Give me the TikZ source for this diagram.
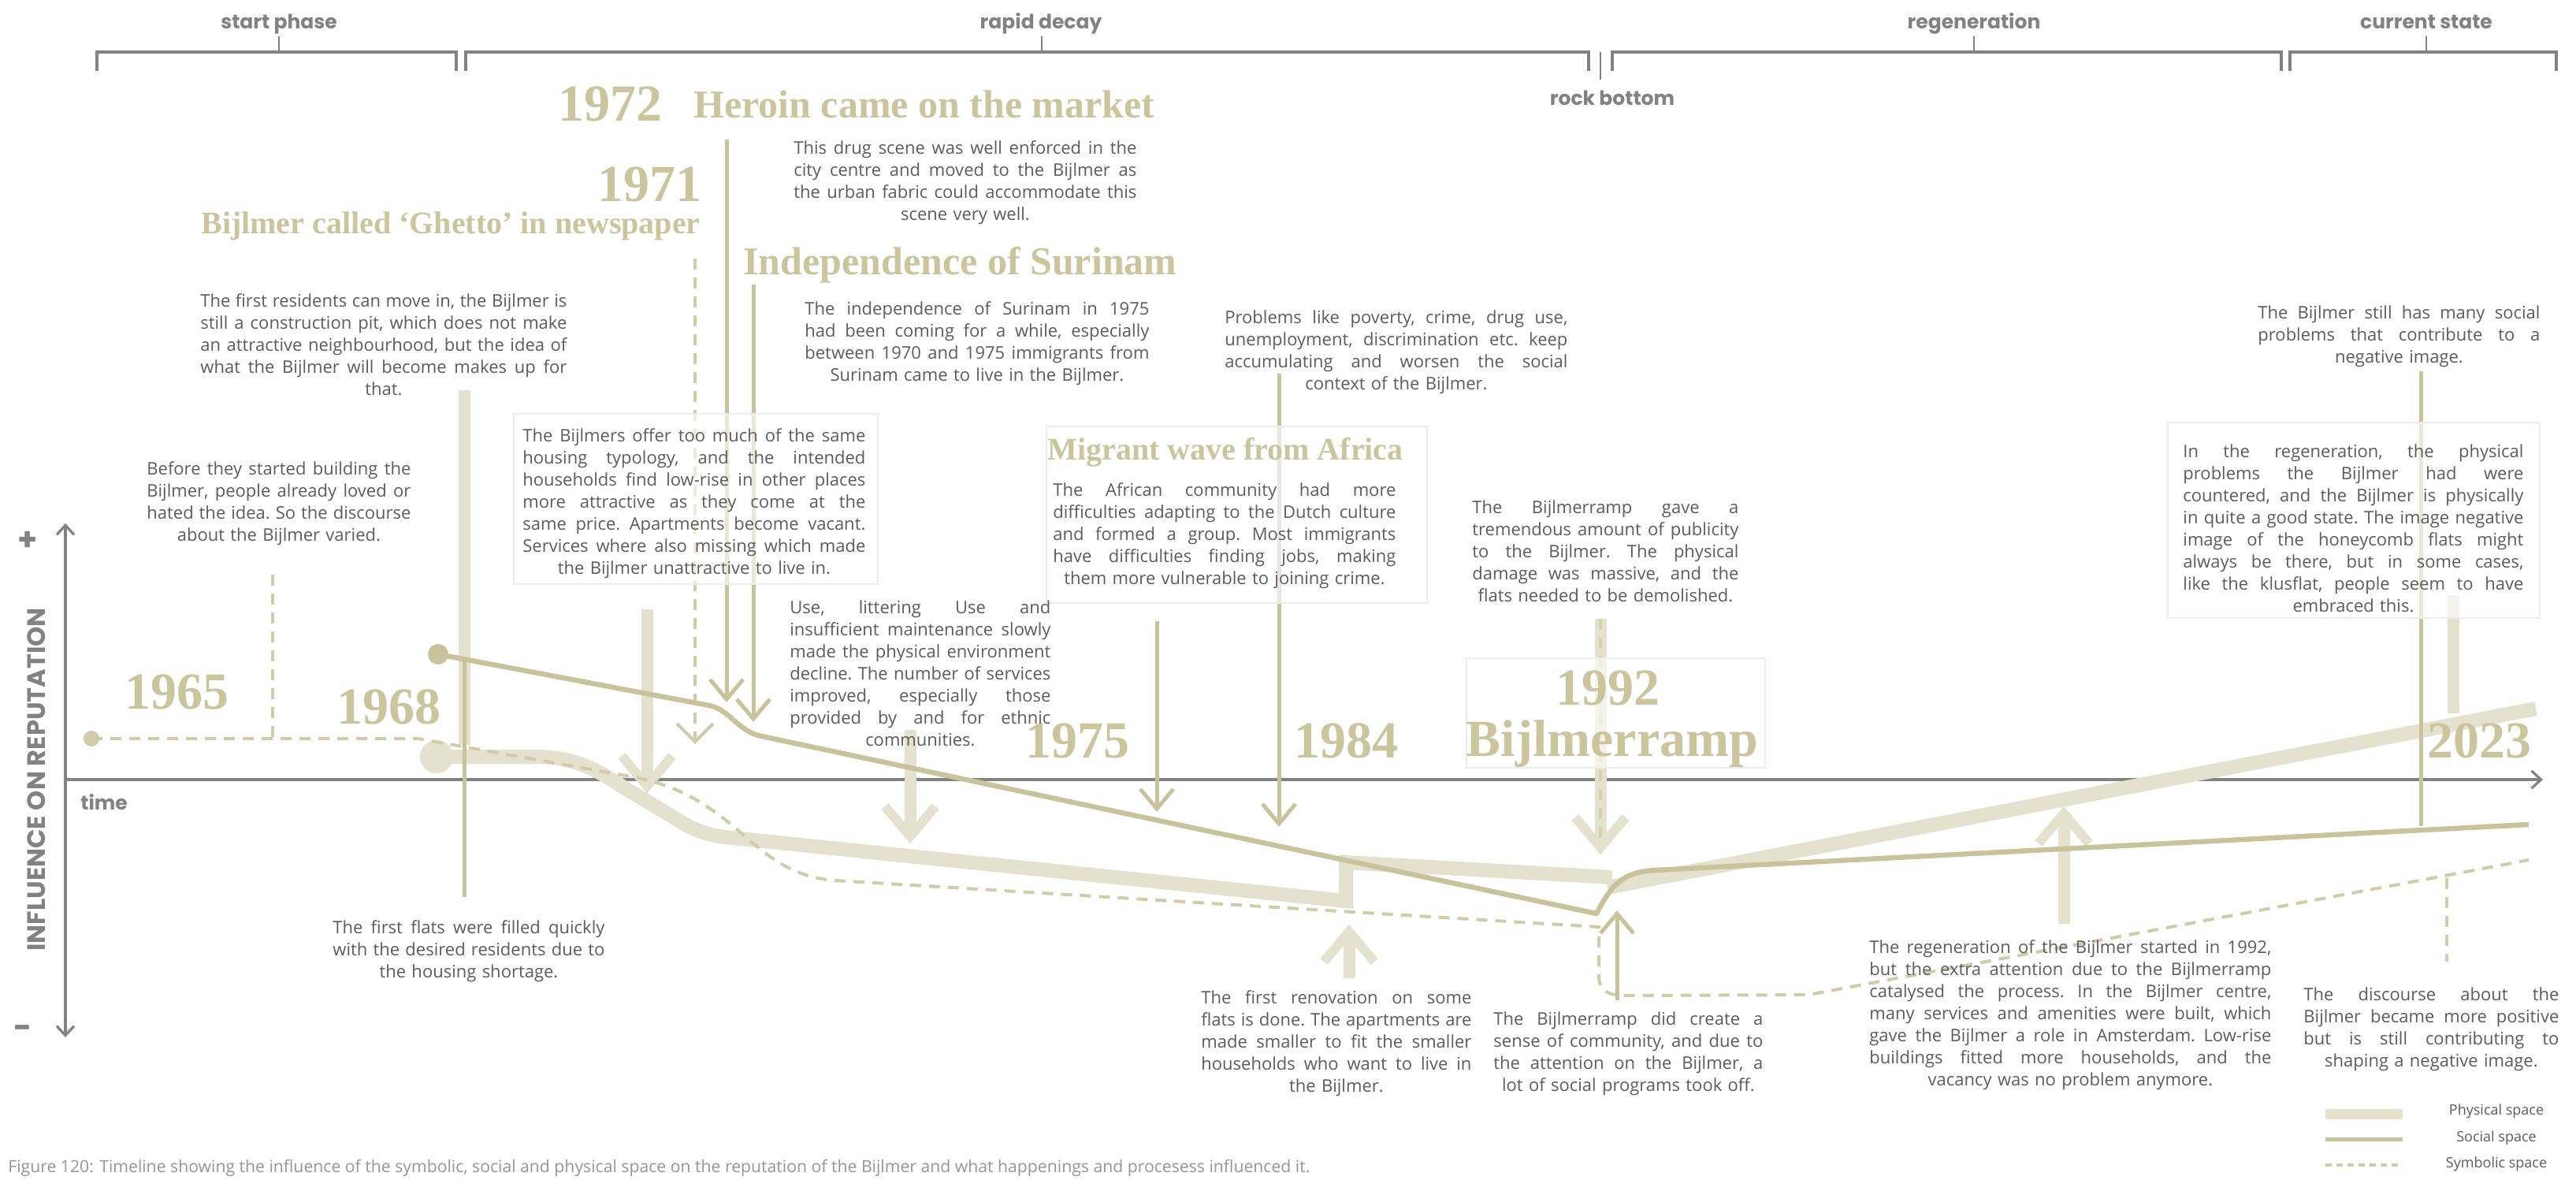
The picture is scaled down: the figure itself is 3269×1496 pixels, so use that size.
\documentclass[tikz,border=0pt]{standalone}
\usepackage{fontspec}
\setmainfont{Open Sans}
\newfontfamily\hfont{Liberation Serif}
\newfontfamily\lfont{Poppins}
\usetikzlibrary{arrows.meta}
\definecolor{khaki}{RGB}{203,197,158}
\definecolor{socialc}{RGB}{201,195,155}
\definecolor{physc}{RGB}{228,225,207}
\definecolor{symbc}{RGB}{208,203,168}
\definecolor{txtc}{RGB}{92,92,92}
\definecolor{lblc}{RGB}{130,130,130}
\definecolor{capc}{RGB}{150,150,150}
\definecolor{boxc}{RGB}{236,236,236}
\newcommand\JL[1]{\par\hbox to\hsize{\frenchspacing\spaceskip=.26em plus 1fil minus .1em\strut#1}}
\newcommand\CL[1]{\par\hbox to\hsize{\hfil\strut#1\hfil}}
\newcommand\phdown[3]{\draw[physbar] (#1,#2) -- (#1,{#3-8});
  \draw[physhead] ({#1-32},{#3-47}) -- (#1,{#3-9}) -- ({#1+32},{#3-47});}
\newcommand\phup[3]{\draw[physbar] (#1,#2) -- (#1,{#3+8});
  \draw[physhead] ({#1-32},{#3+47}) -- (#1,{#3+9}) -- ({#1+32},{#3+47});}
\newcommand\socdown[3]{\draw[socbar] (#1,#2) -- (#1,{#3-3});
  \draw[socbar] ({#1-21},{#3-29}) -- (#1,{#3-4}) -- ({#1+21},{#3-29});}
\newcommand\socupw[3]{\draw[socbar] (#1,#2) -- (#1,{#3+3});
  \draw[socbar] ({#1-21},{#3+29}) -- (#1,{#3+4}) -- ({#1+21},{#3+29});}
\begin{document}
\begin{tikzpicture}[x=0.5pt,y=-0.5pt,
  para/.style={anchor=north west, inner sep=0pt, text=txtc, font=\fontsize{11pt}{14pt}\selectfont},
  yr/.style={inner sep=0pt, text=khaki, font=\hfont\bfseries\fontsize{33pt}{33pt}\selectfont},
  hdm/.style={inner sep=0pt, text=khaki, font=\hfont\bfseries\fontsize{25pt}{25pt}\selectfont},
  hds/.style={inner sep=0pt, text=khaki, font=\hfont\bfseries\fontsize{20pt}{20pt}\selectfont},
  lbl/.style={inner sep=0pt, text=lblc, font=\lfont\bfseries\fontsize{12.5pt}{12.5pt}\selectfont},
  brk/.style={draw=lblc, line width=2pt},
  tck/.style={draw=lblc, line width=1pt},
  axis/.style={draw=lblc, line width=1.6pt},
  physband/.style={draw=physc, line width=9pt},
  physbar/.style={draw=physc, line width=7.5pt},
  physhead/.style={draw=physc, line width=6pt},
  soc/.style={draw=socialc, line width=3.2pt, line join=round},
  socbar/.style={draw=socialc, line width=2.5pt},
  symb/.style={draw=symbc, line width=2pt, dash pattern=on 7pt off 5pt},
  symbhead/.style={draw=symbc, line width=2pt},
  ibox/.style={draw=boxc, line width=1pt, fill=white, fill opacity=0.6},
  leg/.style={inner sep=0pt, text=txtc, font=\fontsize{9pt}{10pt}\selectfont},
]
\useasboundingbox (0,0) rectangle (3269,1496);
\fill[white] (0,0) rectangle (3269,1496);

% ---------- phase brackets ----------
\draw[brk] (123,90) -- (123,66) -- (579,66) -- (579,90);
\draw[brk] (591,90) -- (591,66) -- (2016,66) -- (2016,90);
\draw[tck] (2031,66) -- (2031,101);
\draw[brk] (2046,90) -- (2046,66) -- (2895,66) -- (2895,90);
\draw[brk] (2906,90) -- (2906,66) -- (3244,66) -- (3244,90);
\draw[tck] (354,46) -- (354,66);
\draw[tck] (1322,46) -- (1322,66);
\draw[tck] (2505,46) -- (2505,66);
\draw[tck] (3079,46) -- (3079,66);
\node[lbl, anchor=base] (ph1) at (354,36) {start phase};
\node[lbl, anchor=base] (ph2) at (1321,36) {rapid decay};
\node[lbl, anchor=base] (ph3) at (2505,36) {regeneration};
\node[lbl, anchor=base] (ph4) at (3079,36) {current state};
\node[lbl, anchor=base] (ph5) at (2046,133) {rock bottom};

% ---------- axes ----------
\draw[axis, {Straight Barb[length=6pt,width=11pt]}-{Straight Barb[length=6pt,width=11pt]}] (83,1316) -- (83,664);
\draw[axis, -{Straight Barb[length=6pt,width=11pt]}] (83,989) -- (3227,989);
\node[lbl, anchor=base west] (time) at (102,1027) {time};
\node[lbl, rotate=90, font=\lfont\bfseries\fontsize{16pt}{16pt}\selectfont] (yl) at (46,989) {INFLUENCE ON REPUTATION};
\node[lbl, font=\lfont\bfseries\fontsize{20pt}{20pt}\selectfont] (plus) at (35,686) {+};
\node[lbl, font=\lfont\bfseries\fontsize{20pt}{20pt}\selectfont] (minus) at (29,1309) {-};

% ---------- indicator bars behind ----------
\draw[physbar] (589,495) -- (589,945);
\draw[physbar] (3113,755) -- (3113,905);
\phdown{821}{773}{1006}
\phdown{1155}{926}{1070}
\phdown{2031}{785}{1084}
\phup{1712}{1241}{1173}
\phup{2619}{1172}{1023}

% ---------- physical space ----------
\draw[physband] (554,960) -- (680,960) .. controls (730,960) and (760,978) .. (790,998) -- (860,1040) .. controls (885,1056) and (905,1061) .. (930,1063) -- (1708,1143) -- (1708,1094) -- (2046,1113);
\draw[physband] (2040,1126) -- (3218,899);
\fill[physc] (554,960) circle[radius=10.5pt];

% ---------- symbolic space ----------
\draw[symb] (116,937) -- (530,937) -- (800,985) .. controls (870,997) and (910,1030) .. (950,1065) .. controls (990,1100) and (1020,1114) .. (1060,1117) -- (2029,1176) -- (2029,1238) .. controls (2029,1256) and (2040,1263) .. (2062,1263) -- (2295,1262) -- (3209,1091);
\fill[symbc] (116,937) circle[radius=5pt];
\draw[symb] (346,729) -- (346,937);
\draw[symb] (3105,1114) -- (3105,1220);
\draw[symb] (882,328) -- (882,938);
\draw[symbhead] (859,918) -- (882,941) -- (905,918);
\draw[symb, draw=khaki!80] (2031,785) -- (2031,1070);

% ---------- social space ----------
\draw[socbar] (589,836) -- (589,1138);
\draw[socbar] (3072,471) -- (3072,1048);
\socdown{922}{177}{891}
\socdown{956}{361}{916}
\socdown{1468}{788}{1030}
\socdown{1623}{474}{1049}
\socupw{2052}{1269}{1155}
\draw[soc] (556,830) -- (900,895) .. controls (925,900) and (935,925) .. (962,933) -- (2026,1159) .. controls (2045,1122) and (2060,1106) .. (2100,1104) -- (3209,1046);
\fill[socialc] (556,830) circle[radius=6.5pt];

% ---------- boxes ----------
\draw[ibox] (652,525) rectangle (1114,741);
\draw[ibox] (1328,541) rectangle (1811,765);
\draw[ibox] (1861,835) rectangle (2240,974);
\draw[ibox] (2751,536) rectangle (3223,784);

% ---------- headlines ----------
\node[yr, anchor=base west] (y1972) at (708,153) {1972};
\node[hdm, anchor=base west] (heroin) at (880,149) {Heroin came on the market};
\node[yr, anchor=base east] (y1971) at (891,255) {1971};
\node[hds, anchor=base east] (ghetto) at (889,296) {Bijlmer called ‘Ghetto’ in newspaper};
\node[hdm, anchor=base west] (surinam) at (943,348) {Independence of Surinam};
\node[hds, anchor=base west] (africa) at (1329,583) {Migrant wave from Africa};
\node[yr, anchor=base west] (y1965) at (158,899) {1965};
\node[yr, anchor=base west] (y1968) at (427,918) {1968};
\node[yr, anchor=base west] (y1975) at (1301,961) {1975};
\node[yr, anchor=base west] (y1984) at (1642,961) {1984};
\node[yr, anchor=base west] (y2023) at (3080,961) {2023};
\node[yr, anchor=base] (y1992) at (2040,894) {1992};
\node[yr, anchor=base] (ramp) at (2046,959) {Bijlmerramp};

% ---------- paragraphs ----------
\node[para, text width=232.5pt] (t1) at (254,361) {%
\JL{The first residents can move in, the Bijlmer is}%
\JL{still a construction pit, which does not make}%
\JL{an attractive neighbourhood, but the idea of}%
\JL{what the Bijlmer will become makes up for}%
\CL{that.}};
\node[para, text width=167.5pt] (t2) at (186,574) {%
\JL{Before they started building the}%
\JL{Bijlmer, people already loved or}%
\JL{hated the idea. So the discourse}%
\CL{about the Bijlmer varied.}};
\node[para, text width=217.5pt] (t3) at (1007,167) {%
\JL{This drug scene was well enforced in the}%
\JL{city centre and moved to the Bijlmer as}%
\JL{the urban fabric could accommodate this}%
\CL{scene very well.}};
\node[para, text width=218.5pt] (t4) at (1021,371) {%
\JL{The independence of Surinam in 1975}%
\JL{had been coming for a while, especially}%
\JL{between 1970 and 1975 immigrants from}%
\CL{Surinam came to live in the Bijlmer.}};
\node[para, text width=217.5pt] (t5) at (1554,382) {%
\JL{Problems like poverty, crime, drug use,}%
\JL{unemployment, discrimination etc. keep}%
\JL{accumulating and worsen the social}%
\CL{context of the Bijlmer.}};
\node[para, text width=179pt] (t6) at (2865,376) {%
\JL{The Bijlmer still has many social}%
\JL{problems that contribute to a}%
\CL{negative image.}};
\node[para, text width=217.5pt] (t7) at (663,532) {%
\JL{The Bijlmers offer too much of the same}%
\JL{housing typology, and the intended}%
\JL{households find low-rise in other places}%
\JL{more attractive as they come at the}%
\JL{same price. Apartments become vacant.}%
\JL{Services where also missing which made}%
\CL{the Bijlmer unattractive to live in.}};
\node[para, text width=165.5pt] (t8) at (1002,750) {%
\JL{Use, littering Use and}%
\JL{insufficient maintenance slowly}%
\JL{made the physical environment}%
\JL{decline. The number of services}%
\JL{improved, especially those}%
\JL{provided by and for ethnic}%
\CL{communities.}};
\node[para, text width=217.5pt] (t9) at (1336,601) {%
\JL{The African community had more}%
\JL{difficulties adapting to the Dutch culture}%
\JL{and formed a group. Most immigrants}%
\JL{have difficulties finding jobs, making}%
\CL{them more vulnerable to joining crime.}};
\node[para, text width=169pt] (t10) at (1868,623) {%
\JL{The Bijlmerramp gave a}%
\JL{tremendous amount of publicity}%
\JL{to the Bijlmer. The physical}%
\JL{damage was massive, and the}%
\CL{flats needed to be demolished.}};
\node[para, text width=216pt] (t11) at (2770,552) {%
\JL{In the regeneration, the physical}%
\JL{problems the Bijlmer had were}%
\JL{countered, and the Bijlmer is physically}%
\JL{in quite a good state. The image negative}%
\JL{image of the honeycomb flats might}%
\JL{always be there, but in some cases,}%
\JL{like the klusflat, people seem to have}%
\CL{embraced this.}};
\node[para, text width=172.5pt] (t12) at (422,1156) {%
\JL{The first flats were filled quickly}%
\JL{with the desired residents due to}%
\CL{the housing shortage.}};
\node[para, text width=171.5pt] (t13) at (1524,1245) {%
\JL{The first renovation on some}%
\JL{flats is done. The apartments are}%
\JL{made smaller to fit the smaller}%
\JL{households who want to live in}%
\CL{the Bijlmer.}};
\node[para, text width=171pt] (t14) at (1895,1272) {%
\JL{The Bijlmerramp did create a}%
\JL{sense of community, and due to}%
\JL{the attention on the Bijlmer, a}%
\CL{lot of social programs took off.}};
\node[para, text width=255pt] (t15) at (2372,1181) {%
\JL{The regeneration of the Bijlmer started in 1992,}%
\JL{but the extra attention due to the Bijlmerramp}%
\JL{catalysed the process. In the Bijlmer centre,}%
\JL{many services and amenities were built, which}%
\JL{gave the Bijlmer a role in Amsterdam. Low-rise}%
\JL{buildings fitted more households, and the}%
\CL{vacancy was no problem anymore.}};
\node[para, text width=162pt] (t16) at (2923,1241) {%
\JL{The discourse about the}%
\JL{Bijlmer became more positive}%
\JL{but is still contributing to}%
\CL{shaping a negative image.}};

% ---------- legend ----------
\draw[physc, line width=6.5pt] (2951,1413) -- (3049,1413);
\draw[socialc, line width=2.5pt] (2951,1445) -- (3049,1445);
\draw[symbc, line width=1.8pt, dash pattern=on 4pt off 3pt] (2951,1478) -- (3049,1478);
\node[leg] (lg1) at (3168,1410) {Physical space};
\node[leg] (lg2) at (3168,1444) {Social space};
\node[leg] (lg3) at (3168,1477) {Symbolic space};

% ---------- caption ----------
\node[anchor=base west, inner sep=0pt, text=capc, font=\fontsize{10.6pt}{12pt}\selectfont] (cap) at (10,1487) {Figure 120: Timeline showing the influence of the symbolic, social and physical space on the reputation of the Bijlmer and what happenings and procesess influenced it.};
\end{tikzpicture}
\end{document}
